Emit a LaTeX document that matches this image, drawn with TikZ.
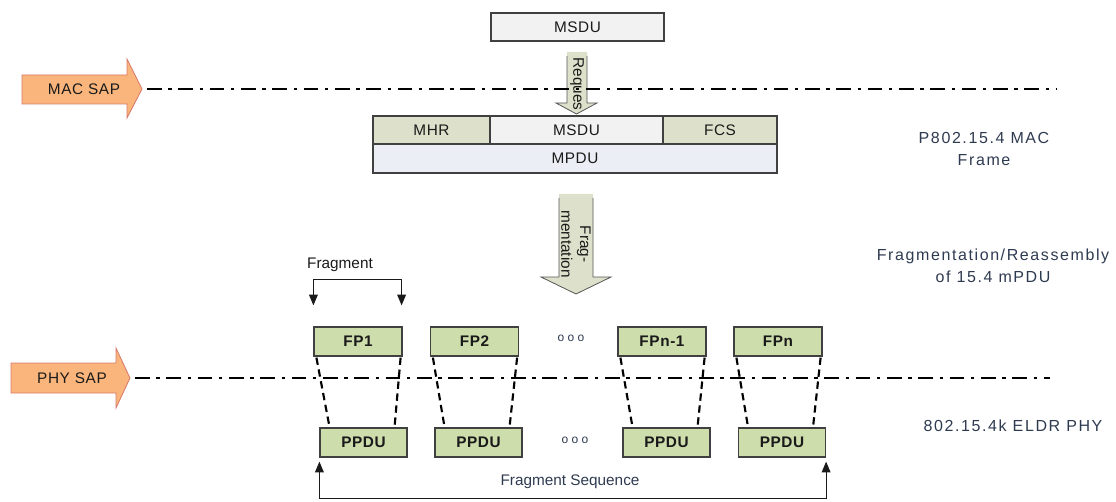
\documentclass[tikz,border=0pt]{standalone}
\usepackage{fontspec}
\setmainfont{Liberation Sans}
\newfontfamily\spaced[LetterSpace=10]{Liberation Sans}
\newfontfamily\boxfont[LetterSpace=4]{Liberation Sans}
\usetikzlibrary{arrows.meta,calc}
\definecolor{sapfill}{HTML}{F9B57B}
\definecolor{sapedge}{HTML}{D8776A}
\definecolor{olive}{HTML}{DDE1CB}
\definecolor{fpfill}{HTML}{CEDDAC}
\definecolor{graybox}{HTML}{F2F2F2}
\definecolor{mpdufill}{HTML}{EBEEF4}
\definecolor{boxline}{HTML}{404040}
\definecolor{slate}{HTML}{2E3A50}
\definecolor{ink}{HTML}{1A1A1A}
\definecolor{arrowedge}{HTML}{555555}
\begin{document}
\begin{tikzpicture}[x=0.75pt,y=-0.75pt,
  cell/.style={draw=boxline, line width=0.9pt, inner sep=0pt, minimum height=21pt, text=ink,
    font=\boxfont\fontsize{11.5}{13}\selectfont},
  fpbox/.style={cell, fill=fpfill, minimum width=66pt, minimum height=21.75pt,
    font=\boxfont\bfseries\fontsize{11.5}{13}\selectfont},
  sapline/.style={draw=black, line width=2pt, dash pattern=on 11pt off 5pt on 2.5pt off 5pt},
  link/.style={draw=black, line width=1.6pt, dash pattern=on 5.5pt off 3.5pt},
  bracket/.style={draw=ink, line width=0.7pt,
    {Triangle[length=8pt,width=6.5pt]}-{Triangle[length=8pt,width=6.5pt]}},
  sap/.style={fill=sapfill, draw=sapedge, line width=0.6pt},
  saptext/.style={text=ink, font=\boxfont\fontsize{11.5}{13}\selectfont},
  blockfill/.style={fill=olive},
  blockedge/.style={draw=arrowedge, line width=0.6pt},
  sidelabel/.style={text=slate, font=\spaced\fontsize{12}{16.5}\selectfont, align=center},
  dots/.style={text=slate, font=\fontsize{9}{10}\selectfont},
]
\useasboundingbox (0,0) rectangle (1116,502);

% SAP arrows
\draw[sap] (22,75) -- (127,75) -- (127,59) -- (142,89) -- (127,118) -- (127,104) -- (22,104) -- cycle;
\node[saptext] (macsap) at (84,89) {MAC SAP};
\coordinate (mactip) at (147,89);
\coordinate (macend) at (1056,89);

\draw[sap] (11,363) -- (116,363) -- (116,348) -- (130,378) -- (116,408) -- (116,393) -- (11,393) -- cycle;
\node[saptext] (physap) at (72,378) {PHY SAP};
\coordinate (phytip) at (135,378);
\coordinate (phyend) at (1050,378);

% top MSDU
\node[cell, fill=graybox, minimum width=129.75pt] (msdutop) at (577.5,27) {MSDU};

% Request block arrow
\fill[blockfill] (567,52) -- (567,103) -- (556,103) -- (576.5,114) -- (597,103) -- (587,103) -- (587,52) -- cycle;
\draw[blockedge] (567,56) -- (567,103) -- (556,103) -- (576.5,114) -- (597,103) -- (587,103) -- (587,56);

% MAC SAP line
\draw[sapline] (mactip) -- (macend);
\node[rotate=-90, text=ink, font=\fontsize{11.5}{13}\selectfont] (req) at (577,84) {Reques};

% MAC frame
\node[cell, fill=olive, minimum width=87.75pt] (mhr) at (431.5,130) {MHR};
\node[cell, fill=graybox, minimum width=129.75pt] (msdu) at (576.5,130) {MSDU};
\node[cell, fill=olive, minimum width=85.5pt] (fcs) at (720,130) {FCS};
\node[cell, fill=mpdufill, minimum width=303pt, minimum height=21.75pt] (mpdu) at (575,158.5) {MPDU};

% Fragmentation block arrow
\fill[blockfill] (559,194) -- (559,277) -- (541,277) -- (576,294) -- (611,277) -- (593,277) -- (593,194) -- cycle;
\draw[blockedge] (559,198) -- (559,277) -- (541,277) -- (576,294) -- (611,277) -- (593,277) -- (593,198);
\node[rotate=-90, align=center, text=ink, font=\fontsize{11.5}{14}\selectfont] (fragm) at (576,244) {Frag-\\mentation};

% FP boxes
\node[fpbox] (fp1) at (358,341.5) {FP1};
\node[fpbox] (fp2) at (474.5,341.5) {FP2};
\node[fpbox] (fpn1) at (662,341.5) {FPn-1};
\node[fpbox] (fpn) at (778,341.5) {FPn};
\node[dots] (dots1) at (571,338) {o o o};

% PHY SAP line
\draw[sapline] (phytip) -- (phyend);

% PPDU boxes
\node[fpbox, minimum width=65.25pt] (pp1) at (363.5,442.5) {PPDU};
\node[fpbox, minimum width=65.25pt] (pp2) at (478.5,442.5) {PPDU};
\node[fpbox, minimum width=65.25pt] (pp3) at (666.5,442.5) {PPDU};
\node[fpbox, minimum width=65.25pt] (pp4) at (782,442.5) {PPDU};
\node[dots] (dots2) at (575,440) {o o o};

% dashed links
\foreach \f/\p in {fp1/pp1, fp2/pp2, fpn1/pp3, fpn/pp4}{
  \draw[link] ($(\f.south west)+(3,1)$) -- ($(\p.north west)+(10,-1)$);
  \draw[link] ($(\f.south east)+(-2,1)$) -- ($(\p.north east)+(-13,-1)$);
}

% Fragment bracket
\node[text=ink, font=\fontsize{11.5}{13}\selectfont] (fraglbl) at (340,265) {Fragment};
\draw[bracket] ($(fp1.north west)+(0,-21)$) -- ++(0,-26) -| ($(fp1.north east)+(-1,-21)$);

% Fragment sequence bracket
\draw[bracket] ($(pp1.south west)+(0,4)$) -- ++(0,37) -| ($(pp4.south east)+(0,4)$);
\node[text=slate, font=\fontsize{11.5}{13}\selectfont] (seqlbl) at (570,482) {Fragment Sequence};

% side labels
\node[sidelabel] (maclbl) at (984,149) {P802.15.4 MAC\\Frame};
\node[sidelabel] (fraglbl2) at (993,266) {Fragmentation/Reassembly\\of 15.4 mPDU};
\node[sidelabel] (phylbl) at (1013,426) {802.15.4k ELDR PHY};
\end{tikzpicture}
\end{document}
